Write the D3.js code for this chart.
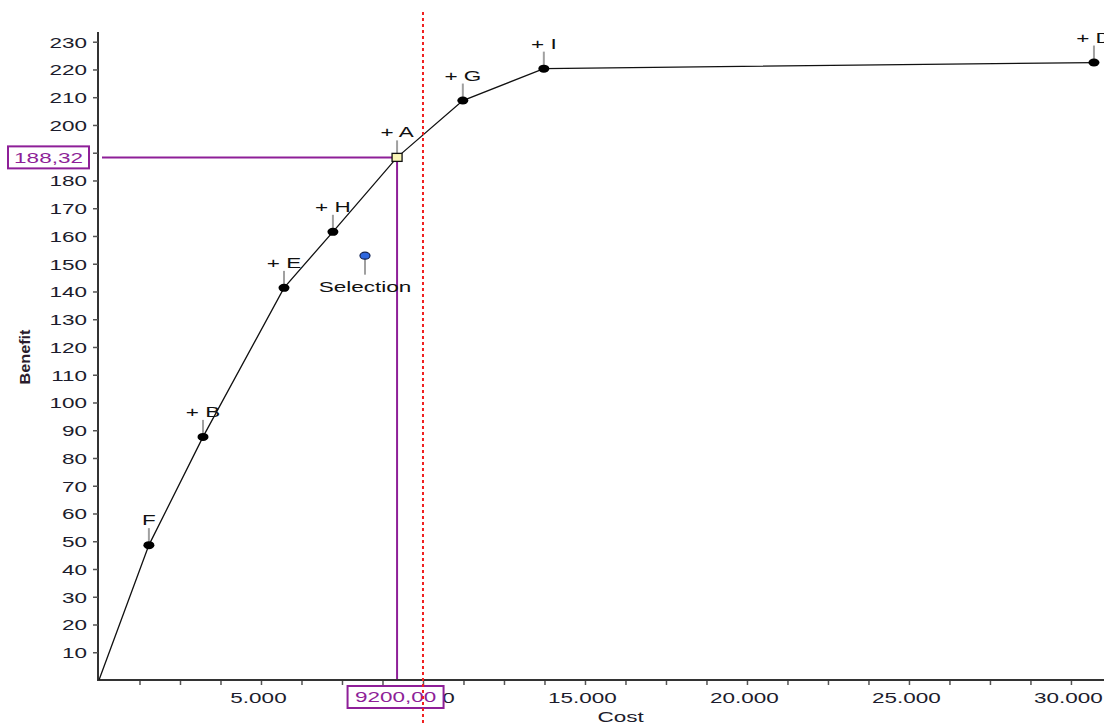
<!DOCTYPE html>
<html><head><meta charset="utf-8">
<script src="https://cdn.jsdelivr.net/npm/d3@7"></script>
<style>
html,body{margin:0;padding:0;background:#fff;}
svg{display:block;}
text{font-family:"Liberation Sans",Arial,sans-serif;}
</style></head>
<body>
<svg id="chart" width="1104" height="723"></svg>
<script>
// ---- data ----
const pointNames = ["F","B","E","H","A","G","I","D"];
const pointLabels = ["F","+ B","+ E","+ H","+ A","+ G","+ I","+ D"];
const costs = [1540, 3210, 5710, 7220, 9200, 11230, 13730, 30710];
const benefits = [48.6, 87.6, 141.3, 161.5, 188.32, 208.8, 220.3, 222.5];
const frontierStart = [0, 0];
const selectionCost = [8210];
const selectionBenefit = [152.9];
const selectionLabel = ["Selection"];
const chosenCost = 9200;
const chosenBenefit = 188.32;
const budgetLimit = 10000;
const yTickValues = [10,20,30,40,50,60,70,80,90,100,110,120,130,140,150,160,170,180,190,200,210,220,230];
const xTickValues = [5000,10000,15000,20000,25000,30000];
const xTickLabels = ["5.000","10.000","15.000","20.000","25.000","30.000"];
const xTitle = "Cost", yTitle = "Benefit";

// ---- layout ----
const svg = d3.select("#chart");
const W = 1104, H = 723;
const x0 = 99, y0 = 680;
const x = d3.scaleLinear().domain([0, 31020]).range([x0, 1104]);
const y = d3.scaleLinear().domain([0, 233.5]).range([y0, 32]);
const SX = 1.5;
const purple = "#8e1f98";

// x axis
const minor = d3.range(1250, 31000, 1250);
const xAxis = d3.axisBottom(x).tickValues(minor).tickSize(5).tickSizeOuter(0)
  .tickFormat(v => { const i = xTickValues.indexOf(v); return i >= 0 ? xTickLabels[i] : ""; });
const gx = svg.append("g").attr("transform", `translate(0,${y0})`).call(xAxis);
gx.select(".domain").attr("stroke", "#333").attr("stroke-width", 2).attr("d", `M${x0-1},0H${W}`);
gx.selectAll(".tick line").attr("stroke", "#555").attr("stroke-width", 1.5).attr("y1", 1);
gx.selectAll(".tick text").attr("y", null).attr("dy", null)
  .attr("transform", "translate(-3,23) scale(1.5,1)")
  .attr("font-size", 15).attr("fill", "#1c1c2c").attr("font-family", "Liberation Sans, Arial, sans-serif");

// y axis
const yAxis = d3.axisLeft(y).tickValues(yTickValues).tickSize(5).tickSizeOuter(0).tickFormat(d3.format("d"));
const gy = svg.append("g").attr("transform", `translate(${x0-1},0)`).call(yAxis);
gy.select(".domain").attr("stroke", "#333").attr("stroke-width", 2).attr("d", `M0,${y(233.5)}V${y0+1}`);
gy.selectAll(".tick line").attr("stroke", "#555").attr("stroke-width", 1.5);
gy.selectAll(".tick text").attr("x", null).attr("dy", "0.36em")
  .attr("transform", "translate(-11,0) scale(1.5,1)")
  .attr("font-size", 15).attr("fill", "#1c1c2c").attr("font-family", "Liberation Sans, Arial, sans-serif");

// axis titles
svg.append("text").attr("transform", `translate(${x(16100)},722) scale(1.5,1)`)
  .attr("text-anchor", "middle").attr("font-size", 15).attr("fill", "#1c1c2c").text(xTitle);
svg.append("text").attr("transform", `translate(30,357) rotate(-90) scale(1.12,1)`)
  .attr("text-anchor", "middle").attr("font-size", 14.5).attr("font-weight", "bold")
  .attr("fill", "#2a1c2c").text(yTitle);

// crosshair to chosen point
svg.append("line").attr("x1", x0 + 3).attr("x2", x(chosenCost)).attr("y1", y(chosenBenefit)).attr("y2", y(chosenBenefit))
  .attr("stroke", purple).attr("stroke-width", 2);
svg.append("line").attr("x1", x(chosenCost)).attr("x2", x(chosenCost)).attr("y1", y(chosenBenefit)).attr("y2", y0 - 1)
  .attr("stroke", purple).attr("stroke-width", 2);

// frontier line
const pts = [frontierStart].concat(costs.map((c, i) => [c, benefits[i]]));
svg.append("path").datum(pts)
  .attr("d", d3.line().x(d => x(d[0])).y(d => y(d[1])))
  .attr("fill", "none").attr("stroke", "#111").attr("stroke-width", 1.3);

// stems + labels
costs.forEach((c, i) => {
  const px = x(c), py = y(benefits[i]);
  svg.append("line").attr("x1", px).attr("x2", px).attr("y1", py - 3).attr("y2", py - 17)
    .attr("stroke", "#a0a0a0").attr("stroke-width", 2);
  svg.append("text").attr("transform", `translate(${px},${py - 20}) scale(${SX},1)`)
    .attr("text-anchor", "middle").attr("font-size", 15).attr("fill", "#111").text(pointLabels[i]);
});

// markers
costs.forEach((c, i) => {
  const px = x(c), py = y(benefits[i]);
  if (pointNames[i] === "A") {
    svg.append("rect").attr("x", px - 5).attr("y", py - 4).attr("width", 10).attr("height", 8)
      .attr("fill", "#fbf6b8").attr("stroke", "#111").attr("stroke-width", 1.3);
  } else {
    svg.append("ellipse").attr("cx", px).attr("cy", py).attr("rx", 5.5).attr("ry", 4)
      .attr("fill", "#000");
  }
});

// selection
selectionCost.forEach((c, i) => {
  const px = x(c), py = y(selectionBenefit[i]);
  svg.append("line").attr("x1", px).attr("x2", px).attr("y1", py + 2).attr("y2", py + 19)
    .attr("stroke", "#a0a0a0").attr("stroke-width", 2);
  svg.append("ellipse").attr("cx", px).attr("cy", py).attr("rx", 5).attr("ry", 3.5)
    .attr("fill", "#2f68e0").attr("stroke", "#102050").attr("stroke-width", 1.2);
  svg.append("text").attr("transform", `translate(${px},${py + 36}) scale(${SX},1)`)
    .attr("text-anchor", "middle").attr("font-size", 15).attr("fill", "#111").text(selectionLabel[i]);
});

// value boxes
const fmt2 = v => d3.format(".2f")(v).replace(".", ",");
function valueBox(cx, cy, w, h, txt) {
  svg.append("rect").attr("x", cx - w / 2).attr("y", cy - h / 2).attr("width", w).attr("height", h)
    .attr("fill", "#fff").attr("stroke", purple).attr("stroke-width", 2);
  svg.append("text").attr("transform", `translate(${cx},${cy}) scale(${SX},1)`)
    .attr("text-anchor", "middle").attr("dy", "0.36em").attr("font-size", 15).attr("fill", purple).text(txt);
}
valueBox(48.5, y(chosenBenefit), 81, 22, fmt2(chosenBenefit));
valueBox(x(chosenCost) - 1.5, 697, 96, 22, fmt2(chosenCost));

// budget limit (red dotted)
svg.append("line").attr("x1", x(budgetLimit)).attr("x2", x(budgetLimit)).attr("y1", 12).attr("y2", H)
  .attr("stroke", "#f02020").attr("stroke-width", 2).attr("stroke-dasharray", "3,3");
</script>
</body></html>
